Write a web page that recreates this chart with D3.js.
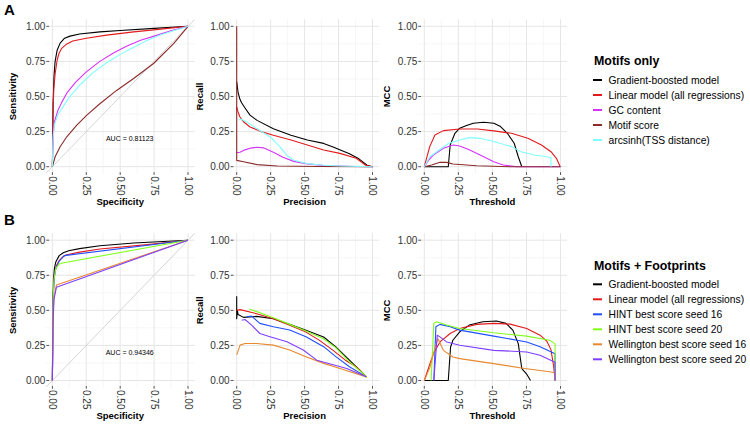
<!DOCTYPE html>
<html><head><meta charset="utf-8">
<script src="https://cdn.jsdelivr.net/npm/d3@7"></script>
<style>body{margin:0;background:#fff;} text{font-family:"Liberation Sans",Arial,Helvetica,sans-serif;}</style>
</head><body><svg id="c" width="750" height="426"></svg>
<script>
// ---------- labels ----------
const tickValues = [0, 0.25, 0.5, 0.75, 1];
const tickLabels = ["0.00", "0.25", "0.50", "0.75", "1.00"];
const minorTicks = [0.125, 0.375, 0.625, 0.875];
const xTitles = ["Specificity", "Precision", "Threshold"];
const yTitles = ["Sensitivity", "Recall", "MCC"];
const rowLabels = ["A", "B"];
const legendTitles = ["Motifs only", "Motifs + Footprints"];
const seriesA = ["Gradient-boosted model", "Linear model (all regressions)", "GC content", "Motif score", "arcsinh(TSS distance)"];
const seriesB = ["Gradient-boosted model", "Linear model (all regressions)", "HINT best score seed 16", "HINT best score seed 20", "Wellington best score seed 16", "Wellington best score seed 20"];
const aucLabels = ["AUC = 0.81123", "AUC = 0.94346"];

// ---------- Row A: ROC ----------
const rocA_gbm = [[0,0],[0.005,0.45],[0.012,0.65],[0.02,0.75],[0.035,0.83],[0.057,0.88],[0.09,0.915],[0.13,0.93],[0.2,0.945],[0.35,0.96],[0.5,0.97],[0.75,0.985],[1,1]];
const rocA_lin = [[0,0],[0.004,0.35],[0.01,0.55],[0.02,0.66],[0.035,0.76],[0.05,0.81],[0.07,0.845],[0.1,0.87],[0.15,0.895],[0.25,0.915],[0.4,0.937],[0.6,0.96],[0.8,0.98],[1,1]];
const rocA_gc = [[0,0],[0.005,0.22],[0.015,0.32],[0.04,0.4],[0.07,0.46],[0.11,0.53],[0.17,0.6],[0.25,0.675],[0.35,0.75],[0.45,0.81],[0.55,0.86],[0.65,0.9],[0.75,0.93],[0.88,0.97],[1,1]];
const rocA_motif = [[0,0],[0.02,0.071],[0.057,0.142],[0.106,0.213],[0.18,0.296],[0.254,0.367],[0.352,0.45],[0.476,0.545],[0.599,0.628],[0.746,0.735],[0.894,0.877],[1,1]];
const rocA_tss = [[0,0],[0.005,0.2],[0.015,0.3],[0.04,0.37],[0.08,0.43],[0.12,0.49],[0.2,0.58],[0.3,0.67],[0.4,0.74],[0.5,0.8],[0.6,0.85],[0.7,0.9],[0.8,0.94],[0.9,0.97],[1,1]];
// ---------- Row A: Precision / Recall ----------
const prA_gbm = [[0,0.605],[0.01,0.53],[0.024,0.48],[0.036,0.455],[0.06,0.42],[0.098,0.367],[0.15,0.33],[0.27,0.27],[0.4,0.224],[0.52,0.19],[0.64,0.166],[0.71,0.14],[0.83,0.092],[0.9,0.056],[0.96,0.01],[1,0]];
const prA_lin = [[0,0.426],[0.01,0.39],[0.024,0.354],[0.05,0.32],[0.098,0.283],[0.18,0.25],[0.27,0.224],[0.4,0.19],[0.52,0.155],[0.64,0.119],[0.76,0.095],[0.88,0.06],[0.95,0.01],[1,0]];
const prA_gc = [[0,0.1],[0.024,0.103],[0.06,0.12],[0.1,0.132],[0.15,0.139],[0.2,0.134],[0.27,0.103],[0.34,0.067],[0.42,0.038],[0.52,0.02],[0.64,0.008],[0.88,0.001],[1,0]];
const prA_motif = [[0,1],[0,0.045],[0.05,0.035],[0.15,0.015],[0.3,0.005],[0.6,0.001],[1,0]];
const prA_tss = [[0.012,0.333],[0.036,0.338],[0.08,0.315],[0.15,0.27],[0.25,0.21],[0.32,0.14],[0.37,0.08],[0.42,0.046],[0.52,0.022],[0.64,0.01],[0.76,0.005],[1,0]];
// ---------- Row A: MCC ----------
const mccA_gbm = [[0,0],[0.176,0],[0.19,0.155],[0.225,0.238],[0.26,0.274],[0.31,0.293],[0.36,0.31],[0.435,0.317],[0.51,0.31],[0.56,0.286],[0.61,0.238],[0.66,0.167],[0.69,0.071],[0.716,0]];
const mccA_lin = [[0,0],[0.04,0.143],[0.078,0.226],[0.14,0.257],[0.26,0.269],[0.39,0.269],[0.51,0.255],[0.64,0.238],[0.76,0.202],[0.86,0.155],[0.93,0.107],[0.97,0.06],[0.998,0]];
const mccA_gc = [[0,0],[0.03,0.045],[0.066,0.083],[0.14,0.131],[0.213,0.155],[0.26,0.148],[0.33,0.12],[0.41,0.083],[0.51,0.036],[0.58,0.012],[0.68,0],[1,0]];
const mccA_motif = [[0,0],[0.054,0.012],[0.115,0.031],[0.164,0.031],[0.21,0.019],[0.385,0.007],[0.63,0],[1,0]];
const mccA_tss = [[0,0],[0.04,0.071],[0.11,0.119],[0.18,0.167],[0.26,0.19],[0.33,0.207],[0.41,0.202],[0.51,0.179],[0.64,0.143],[0.71,0.107],[0.81,0.083],[0.93,0.065],[0.93,0]];

// ---------- Row B: ROC ----------
const rocB_gbm = [[0,0],[0.003,0.5],[0.008,0.72],[0.015,0.8],[0.025,0.845],[0.05,0.89],[0.08,0.91],[0.12,0.925],[0.2,0.94],[0.35,0.96],[0.6,0.98],[1,1]];
const rocB_lin = [[0,0],[0.004,0.5],[0.012,0.74],[0.03,0.82],[0.05,0.855],[0.075,0.88],[0.1,0.895],[0.2,0.915],[0.35,0.937],[0.72,0.97],[1,1]];
const rocB_hint16 = [[0,0],[0.005,0.6],[0.015,0.74],[0.025,0.8],[0.05,0.85],[0.087,0.89],[1,1]];
const rocB_hint20 = [[0,0],[0.005,0.55],[0.012,0.72],[0.025,0.8],[0.05,0.83],[0.075,0.838],[1,1]];
const rocB_well16 = [[0,0],[0.004,0.45],[0.012,0.6],[0.03,0.68],[1,1]];
const rocB_well20 = [[0,0],[0.004,0.4],[0.012,0.58],[0.03,0.665],[1,1]];
// ---------- Row B: Precision / Recall ----------
const prB_gbm = [[0,0.6],[0,0.44],[0.005,0.5],[0.01,0.47],[0.05,0.45],[0.147,0.457],[0.27,0.44],[0.39,0.4],[0.51,0.358],[0.64,0.31],[0.73,0.239],[0.83,0.145],[0.906,0.074],[0.955,0.026]];
const prB_lin = [[0,0.5],[0.025,0.505],[0.147,0.476],[0.27,0.44],[0.39,0.393],[0.51,0.345],[0.61,0.286],[0.71,0.215],[0.8,0.145],[0.88,0.098],[0.955,0.026]];
const prB_hint16 = [[0.073,0.454],[0.11,0.459],[0.17,0.407],[0.27,0.383],[0.39,0.36],[0.51,0.312],[0.64,0.241],[0.73,0.17],[0.83,0.098],[0.955,0.026]];
const prB_hint20 = [[0.093,0.51],[0.27,0.448],[0.39,0.4],[0.51,0.352],[0.64,0.298],[0.73,0.234],[0.83,0.133],[0.93,0.05],[0.96,0.02]];
const prB_well16 = [[0,0.183],[0.025,0.252],[0.061,0.264],[0.147,0.264],[0.27,0.252],[0.39,0.217],[0.51,0.17],[0.64,0.122],[0.76,0.086],[0.955,0.026]];
const prB_well20 = [[0.037,0.43],[0.061,0.435],[0.11,0.395],[0.17,0.335],[0.245,0.312],[0.37,0.276],[0.49,0.217],[0.59,0.145],[0.69,0.117],[0.81,0.086],[0.955,0.026]];
// ---------- Row B: MCC ----------
const mccB_gbm = [[0,0],[0.176,0],[0.193,0.239],[0.21,0.287],[0.26,0.347],[0.33,0.395],[0.43,0.419],[0.53,0.424],[0.6,0.407],[0.65,0.359],[0.69,0.263],[0.716,0.084],[0.75,0.048],[0.78,0]];
const mccB_lin = [[0,0],[0.066,0.19],[0.115,0.275],[0.19,0.335],[0.26,0.371],[0.385,0.4],[0.51,0.407],[0.63,0.402],[0.752,0.371],[0.85,0.323],[0.9,0.28],[0.93,0.22],[0.95,0.1],[0.96,0]];
const mccB_hint16 = [[0.07,0],[0.085,0.383],[0.115,0.4],[0.19,0.383],[0.26,0.359],[0.51,0.316],[0.752,0.275],[0.85,0.24],[0.96,0.19],[0.96,0]];
const mccB_hint20 = [[0.05,0],[0.07,0.407],[0.09,0.419],[0.164,0.395],[0.26,0.371],[0.51,0.34],[0.752,0.316],[0.92,0.287],[0.96,0.263],[0.96,0]];
const mccB_well16 = [[0,0],[0.04,0.09],[0.07,0.2],[0.1,0.299],[0.14,0.215],[0.21,0.167],[0.26,0.156],[0.51,0.12],[0.75,0.084],[0.92,0.062],[0.96,0.055],[0.96,0]];
const mccB_well20 = [[0.07,0],[0.095,0.323],[0.115,0.311],[0.164,0.275],[0.26,0.251],[0.51,0.215],[0.752,0.203],[0.85,0.18],[0.96,0.13],[0.96,0]];

const colorsA = ["#000000", "#e31a1c", "#d633ff", "#8b2a2a", "#80ffff"];
const colorsB = ["#000000", "#e31a1c", "#1f4fff", "#80ff1a", "#e8892f", "#7f3fff"];

const rows = [
  {labelY: 14, y0: 166.7, y1: 26.3, panels: [
    [rocA_gbm, rocA_lin, rocA_gc, rocA_motif, rocA_tss],
    [prA_gbm, prA_lin, prA_gc, prA_motif, prA_tss],
    [mccA_gbm, mccA_lin, mccA_gc, mccA_motif, mccA_tss]], colors: colorsA, names: seriesA,
    legendTitleY: 64.5, legendY0: 80},
  {labelY: 224, y0: 380.5, y1: 240.2, panels: [
    [rocB_gbm, rocB_lin, rocB_hint16, rocB_hint20, rocB_well16, rocB_well20],
    [prB_gbm, prB_lin, prB_hint16, prB_hint20, prB_well16, prB_well20],
    [mccB_gbm, mccB_lin, mccB_hint16, mccB_hint20, mccB_well16, mccB_well20]], colors: colorsB, names: seriesB,
    legendTitleY: 269.5, legendY0: 284.3}
];
const cols = [{x0: 52.4, x1: 188, ytx: 13}, {x0: 236.7, x1: 372.5, ytx: 200}, {x0: 424.3, x1: 560.5, ytx: 387}];

const svg = d3.select("#c");
const exp = 0.05;
let clipId = 0;

rows.forEach((row, ri) => {
  svg.append("text").attr("x", 4).attr("y", row.labelY + 1).attr("font-size", 15).attr("font-weight", "bold").attr("fill", "#000").text(rowLabels[ri]);
  cols.forEach((col, ci) => {
    const x = d3.scaleLinear().domain([0, 1]).range([col.x0, col.x1]);
    const y = d3.scaleLinear().domain([0, 1]).range([row.y0, row.y1]);
    const L = x(-exp), R = x(1 + exp), T = y(1 + exp), B = y(-exp);
    const g = svg.append("g");
    minorTicks.forEach(v => {
      g.append("line").attr("x1", x(v)).attr("x2", x(v)).attr("y1", T).attr("y2", B).attr("stroke", "#f0f0f0").attr("stroke-width", 0.6);
      g.append("line").attr("y1", y(v)).attr("y2", y(v)).attr("x1", L).attr("x2", R).attr("stroke", "#f0f0f0").attr("stroke-width", 0.6);
    });
    tickValues.forEach(v => {
      g.append("line").attr("x1", x(v)).attr("x2", x(v)).attr("y1", T).attr("y2", B).attr("stroke", "#e6e6e6").attr("stroke-width", 1);
      g.append("line").attr("y1", y(v)).attr("y2", y(v)).attr("x1", L).attr("x2", R).attr("stroke", "#e6e6e6").attr("stroke-width", 1);
    });
    const cid = "clip" + (clipId++);
    svg.append("clipPath").attr("id", cid).append("rect").attr("x", L).attr("y", T).attr("width", R - L).attr("height", B - T);
    const pg = g.append("g").attr("clip-path", `url(#${cid})`);
    if (ci === 0) {
      pg.append("line").attr("x1", x(-exp)).attr("y1", y(-exp)).attr("x2", x(1 + exp)).attr("y2", y(1 + exp)).attr("stroke", "#d0d0d0").attr("stroke-width", 0.9);
    }
    const line = d3.line().x(d => x(d[0])).y(d => y(d[1]));
    row.panels[ci].forEach((s, si) => {
      pg.append("path").datum(s).attr("d", line).attr("fill", "none").attr("stroke", row.colors[si]).attr("stroke-width", 1.1).attr("stroke-linejoin", "round");
    });
    tickValues.forEach((v, i) => {
      g.append("line").attr("x1", col.x0 - 6).attr("x2", col.x0 - 3.3).attr("y1", y(v)).attr("y2", y(v)).attr("stroke", "#333").attr("stroke-width", 0.8);
      g.append("text").attr("x", col.x0 - 7).attr("y", y(v)).attr("dy", "0.35em").attr("text-anchor", "end").attr("font-size", 10).attr("fill", "#333").text(tickLabels[i]);
      g.append("line").attr("y1", row.y0 + 5.5).attr("y2", row.y0 + 8.3).attr("x1", x(v)).attr("x2", x(v)).attr("stroke", "#333").attr("stroke-width", 0.8);
      g.append("text").attr("transform", `translate(${x(v)},${row.y0 + 9.5}) rotate(90)`).attr("dy", "0.35em").attr("text-anchor", "start").attr("font-size", 10).attr("fill", "#333").text(tickLabels[i]);
    });
    g.append("text").attr("transform", `translate(${(col.x0 + col.x1) / 2},${row.y0 + 38.5})`).attr("text-anchor", "middle").attr("font-size", 9.5).attr("font-weight", "bold").attr("fill", "#000").text(xTitles[ci]);
    g.append("text").attr("transform", `translate(${col.ytx},${(row.y0 + row.y1) / 2}) rotate(-90)`).attr("dy", "0.35em").attr("text-anchor", "middle").attr("font-size", 9.5).attr("font-weight", "bold").attr("fill", "#000").text(yTitles[ci]);
    if (ci === 0) {
      g.append("text").attr("x", x(0.57)).attr("y", y(0.2)).attr("dy", "0.35em").attr("text-anchor", "middle").attr("font-size", 7).attr("fill", "#000").text(aucLabels[ri]);
    }
  });
  const lg = svg.append("g");
  lg.append("text").attr("x", 594).attr("y", row.legendTitleY).attr("font-size", 12.4).attr("font-weight", "bold").attr("fill", "#000").text(legendTitles[ri]);
  row.names.forEach((n, i) => {
    const yy = row.legendY0 + i * 15;
    lg.append("line").attr("x1", 593).attr("x2", 602).attr("y1", yy).attr("y2", yy).attr("stroke", row.colors[i]).attr("stroke-width", 2);
    lg.append("text").attr("x", 608.5).attr("y", yy).attr("dy", "0.35em").attr("font-size", 10.3).attr("fill", "#000").text(n);
  });
});
</script></body></html>
